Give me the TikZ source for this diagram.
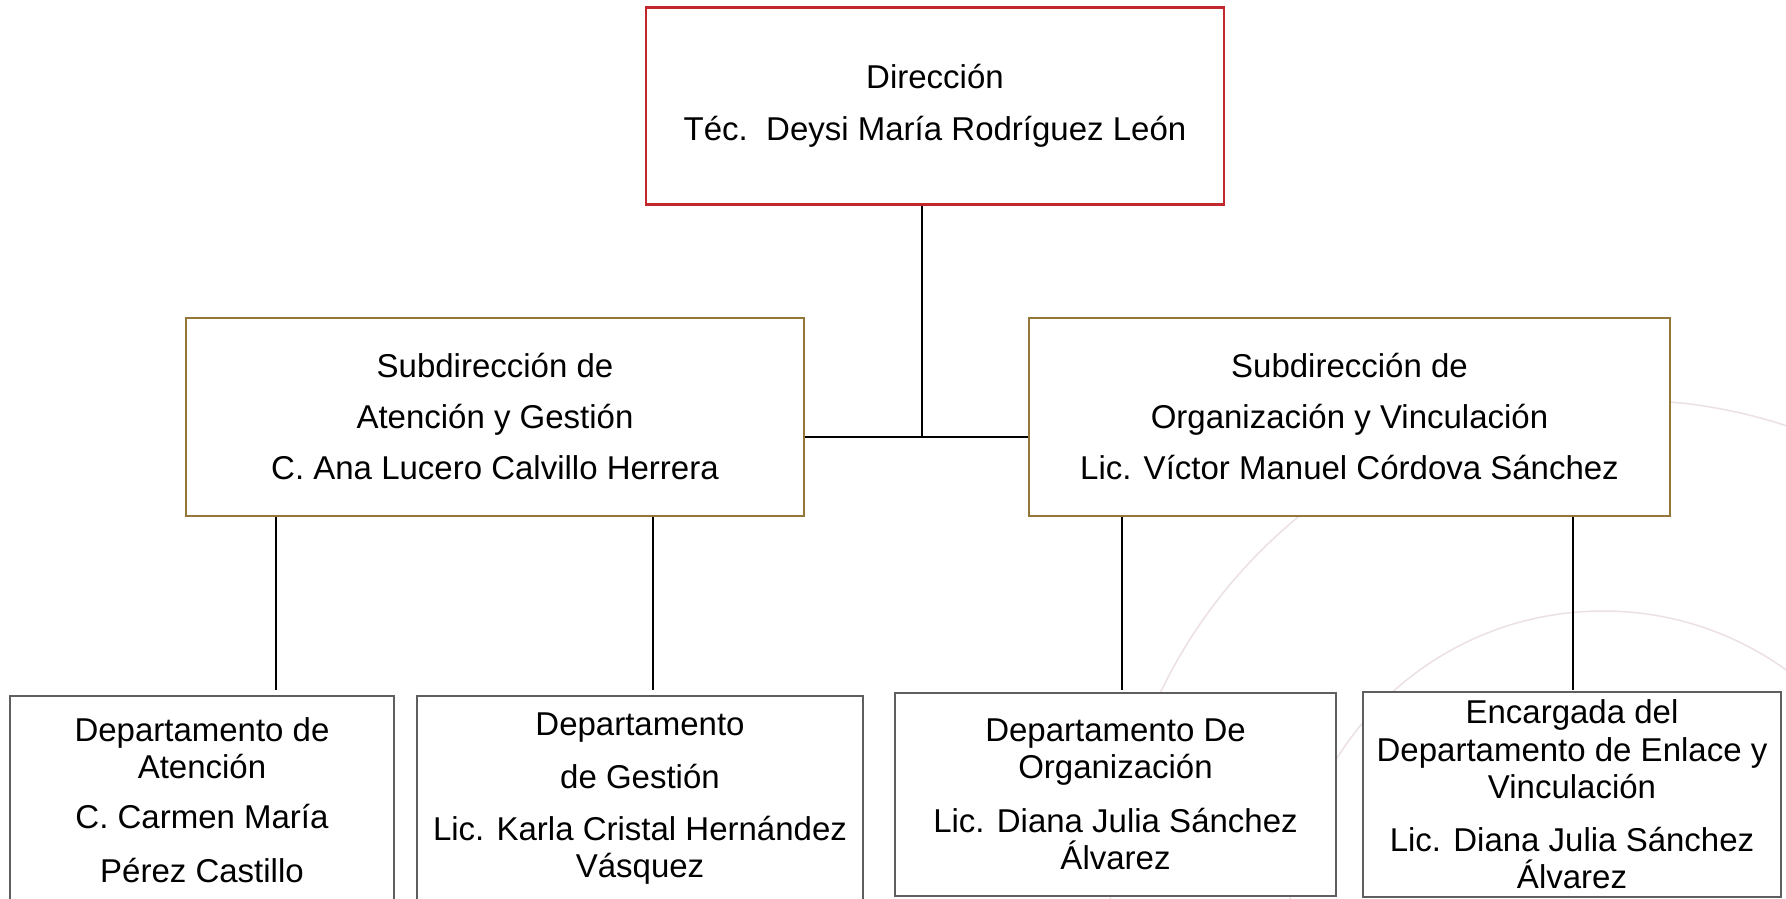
\documentclass[tikz,border=0pt]{standalone}
\usepackage{fontspec}
\setmainfont{Liberation Sans}
\definecolor{dirred}{RGB}{193,39,45}
\definecolor{subgold}{RGB}{148,118,58}
\definecolor{depgray}{RGB}{95,95,95}
\definecolor{arcpink}{RGB}{236,224,226}
\begin{document}
\begin{tikzpicture}[x=1pt,y=-1pt,
  box/.style={draw, fill=white, line width=2.2pt, inner sep=0pt, align=center,
    font=\fontsize{33}{37}\selectfont},
  dirbox/.style={box, draw=dirred},
  subbox/.style={box, draw=subgold},
  depbox/.style={box, draw=depgray},
  conn/.style={draw=black, line width=2pt},
  deco/.style={draw=arcpink, line width=1.5pt}]
\useasboundingbox[fill=white] (0,0) rectangle (1786,899);
\begin{scope}
  \clip (0,0) rectangle (1786,899);
  \draw[deco] (1625,915) circle[radius=515pt];
  \draw[deco] (1603,925) circle[radius=314pt];
\end{scope}
% boxes
\node[dirbox, minimum width=578pt, minimum height=197pt] (dir) at (935,106)
  {Dirección\\[15pt]Téc.\ \ Deysi María Rodríguez León};
\node[subbox, minimum width=618pt, minimum height=198pt] (subL) at (495,417)
  {Subdirección de\\[14pt]Atención y Gestión\\[14pt]C. Ana Lucero Calvillo Herrera};
\node[subbox, minimum width=641pt, minimum height=198pt] (subR) at (1349.5,417)
  {Subdirección de\\[14pt]Organización y Vinculación\\[14pt]Lic. Víctor Manuel Córdova Sánchez};
\node[depbox, minimum width=384pt, minimum height=209pt] (b1) at (202,800.5)
  {Departamento de\\Atención\\[13pt]C. Carmen María\\[17pt]Pérez Castillo};
\node[depbox, minimum width=446pt, minimum height=206pt] (b2) at (640,799)
  {Departamento\\[16pt]de Gestión\\[15pt]Lic. Karla Cristal Hernández\\Vásquez};
\node[depbox, minimum width=441pt, minimum height=203pt] (b3) at (1115.5,794.5)
  {Departamento De\\Organización\\[17pt]Lic. Diana Julia Sánchez\\Álvarez};
\node[depbox, minimum width=418pt, minimum height=205pt] (b4) at (1572,794.5)
  {Encargada del\\[1pt]Departamento de Enlace y\\Vinculación\\[16pt]Lic. Diana Julia Sánchez\\Álvarez};
% connectors
\coordinate (j) at (922,437);
\coordinate (c1) at (276,0);
\coordinate (c2) at (653,0);
\coordinate (c3) at (1122,0);
\coordinate (c4) at (1573,0);
\draw[conn] (dir.south -| j) -- (j);
\draw[conn, line width=2.6pt] (subL.east |- j) -- (subR.west |- j);
\draw[conn, shorten >=5pt] (subL.south -| c1) -- (b1.north -| c1);
\draw[conn, shorten >=5pt] (subL.south -| c2) -- (b2.north -| c2);
\draw[conn, shorten >=2pt] (subR.south -| c3) -- (b3.north -| c3);
\draw[conn, shorten >=1pt] (subR.south -| c4) -- (b4.north -| c4);
\end{tikzpicture}
\end{document}
